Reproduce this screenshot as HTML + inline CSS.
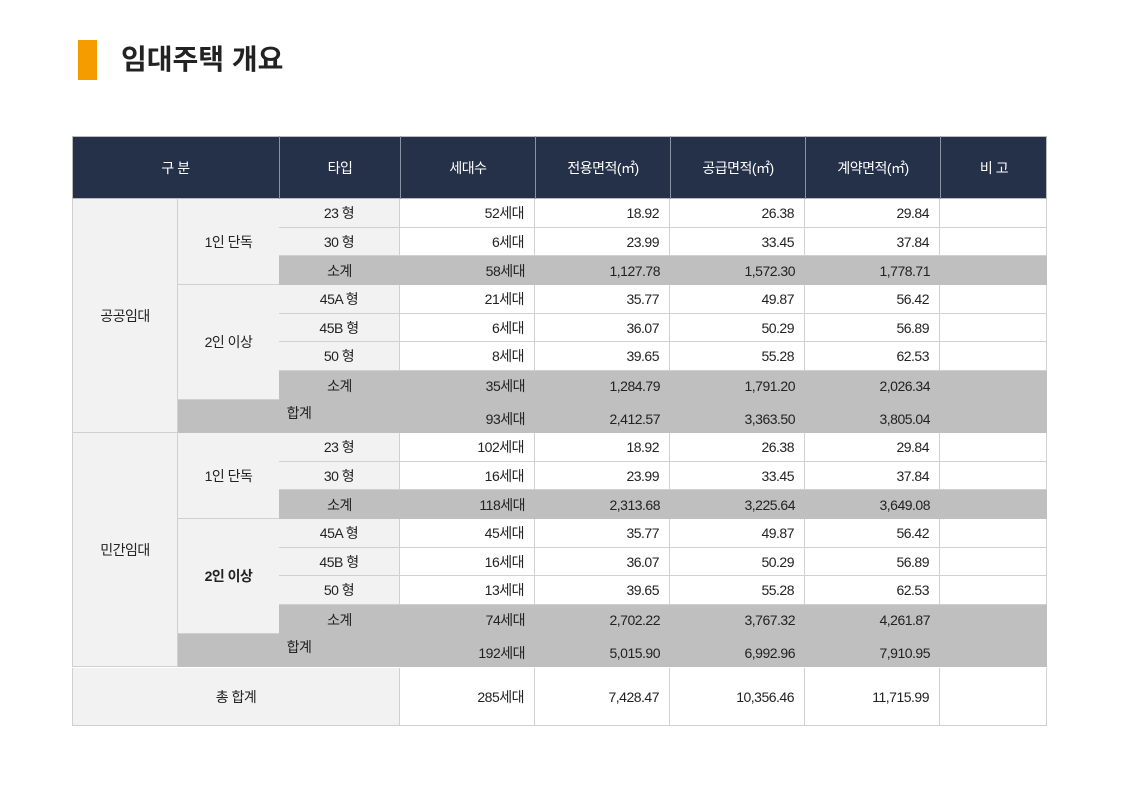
<!DOCTYPE html>
<html><head><meta charset="utf-8">
<style>
body{margin:0;width:1134px;height:794px;background:#fff;position:relative;overflow:hidden;font-family:"Liberation Sans","Noto Sans CJK KR",sans-serif;}
.c{position:absolute;box-sizing:border-box;font-size:14px;color:#222;display:flex;align-items:center;letter-spacing:-0.5px}
</style></head><body>
<div style="position:absolute;left:78px;top:40px;width:19px;height:40px;background:#f59c00"></div>
<div style="position:absolute;left:121px;top:40px;font-size:28px;font-weight:bold;color:#222;line-height:40px;font-family:'Liberation Sans','Noto Sans CJK KR',sans-serif">임대주택 개요</div>
<div id="tbl"></div>
<script>
const X=[72,178,279,400,535,670,805,940,1047];
const headers=["구 분","타입","세대수","전용면적(㎡)","공급면적(㎡)","계약면적(㎡)","비 고"];
const groups=["공공임대","민간임대"];
const types=[["23 형","30 형"],["45A 형","45B 형","50 형"]];
const rowsPub=[["52세대","18.92","26.38","29.84"],["6세대","23.99","33.45","37.84"],["58세대","1,127.78","1,572.30","1,778.71"],["21세대","35.77","49.87","56.42"],["6세대","36.07","50.29","56.89"],["8세대","39.65","55.28","62.53"],["35세대","1,284.79","1,791.20","2,026.34"],["93세대","2,412.57","3,363.50","3,805.04"]];
const rowsPri=[["102세대","18.92","26.38","29.84"],["16세대","23.99","33.45","37.84"],["118세대","2,313.68","3,225.64","3,649.08"],["45세대","35.77","49.87","56.42"],["16세대","36.07","50.29","56.89"],["13세대","39.65","55.28","62.53"],["74세대","2,702.22","3,767.32","4,261.87"],["192세대","5,015.90","6,992.96","7,910.95"]];
const total=["285세대","7,428.47","10,356.46","11,715.99"];
const T=document.getElementById('tbl');
function cell(x1,y1,x2,y2,txt,bg,align,name,extra){
  const d=document.createElement('div');
  d.className='c';
  
  
  d.style.left=x1+'px';d.style.top=y1+'px';d.style.width=(x2-x1)+'px';d.style.height=(y2-y1)+'px';
  d.style.background=bg;
  d.style.justifyContent=align==='r'?'flex-end':(align==='l'?'flex-start':'center');
  if(align==='r')d.style.paddingRight='10px';
  if(extra)Object.assign(d.style,extra);
  d.textContent=txt;
  T.appendChild(d);return d;
}
const B='1px solid #d0d0d0', G='#bfbfbf', L='#f2f2f2';
// header
cell(72,136,1047,199,'', '#253049','c','header-row',{border:'1px solid #bbb'});
const hx=[[72,279],[279,400],[400,535],[535,670],[670,805],[805,940],[940,1047]];
hx.forEach((h,i)=>{cell(h[0],136,h[1],199,headers[i],'transparent','c','header-cell',{color:'#fff',borderLeft:i?'1px solid #8a93a6':'none'});});
function block(y0,rows,gi){
  const ys=[y0,y0+29,y0+57,y0+86,y0+115,y0+143,y0+172,y0+201,y0+234];
  cell(72,ys[0],178,ys[8],groups[gi],L,'c','group-label',{borderLeft:B,borderBottom:B,borderRight:B});
  cell(178,ys[0],279,ys[3],'1인 단독',L,'c','subgroup-label',{borderBottom:B});
  cell(178,ys[3],279,ys[7],'2인 이상',L,'c','subgroup-label',{borderBottom:B,fontWeight:gi?'bold':'normal'});
  const map=[[0,0],[0,1],null,[1,0],[1,1],[1,2],null];
  for(let r=0;r<8;r++){
    const y1=ys[r],y2=ys[r+1],row=rows[r];
    if(r===7){
      cell(178,y1,1047,y2,'',G,'c','total-row');
      cell(178,y1,400,y2-8,'합계','transparent','c','total-label',{paddingLeft:'20px'});
      row.forEach((v,i)=>cell(X[i+3],y1+4,X[i+4],y2,v,'transparent','r','total-value'));
    } else if(map[r]===null){
      cell(279,y1,1047,y2,'',G,'c','subtotal-row');
      cell(279,y1,400,y2,'소계','transparent','c','subtotal-label');
      row.forEach((v,i)=>cell(X[i+3],y1,X[i+4],y2,v,'transparent','r','subtotal-value'));
    } else {
      cell(279,y1,400,y2,types[map[r][0]][map[r][1]],L,'c','type-label',{borderBottom:B,borderRight:B});
      row.forEach((v,i)=>cell(X[i+3],y1,X[i+4],y2,v,'#fff','r','data-value',{borderBottom:B,borderRight:B}));
      cell(940,y1,1047,y2,'','#fff','c','note-cell',{borderBottom:B,borderRight:B});
    }
  }
}
block(199,rowsPub,0);
block(433,rowsPri,1);
cell(72,668,400,726,'총 합계',L,'c','grand-total-label',{borderLeft:B,borderBottom:B,borderRight:B,paddingBottom:':4px'});
total.forEach((v,i)=>cell(X[i+3],668,X[i+4],726,v,'#fff','r','grand-total-value',{borderBottom:B,borderRight:B}));
cell(940,668,1047,726,'','#fff','c','note-cell',{borderBottom:B,borderRight:B});
</script>
</body></html>
